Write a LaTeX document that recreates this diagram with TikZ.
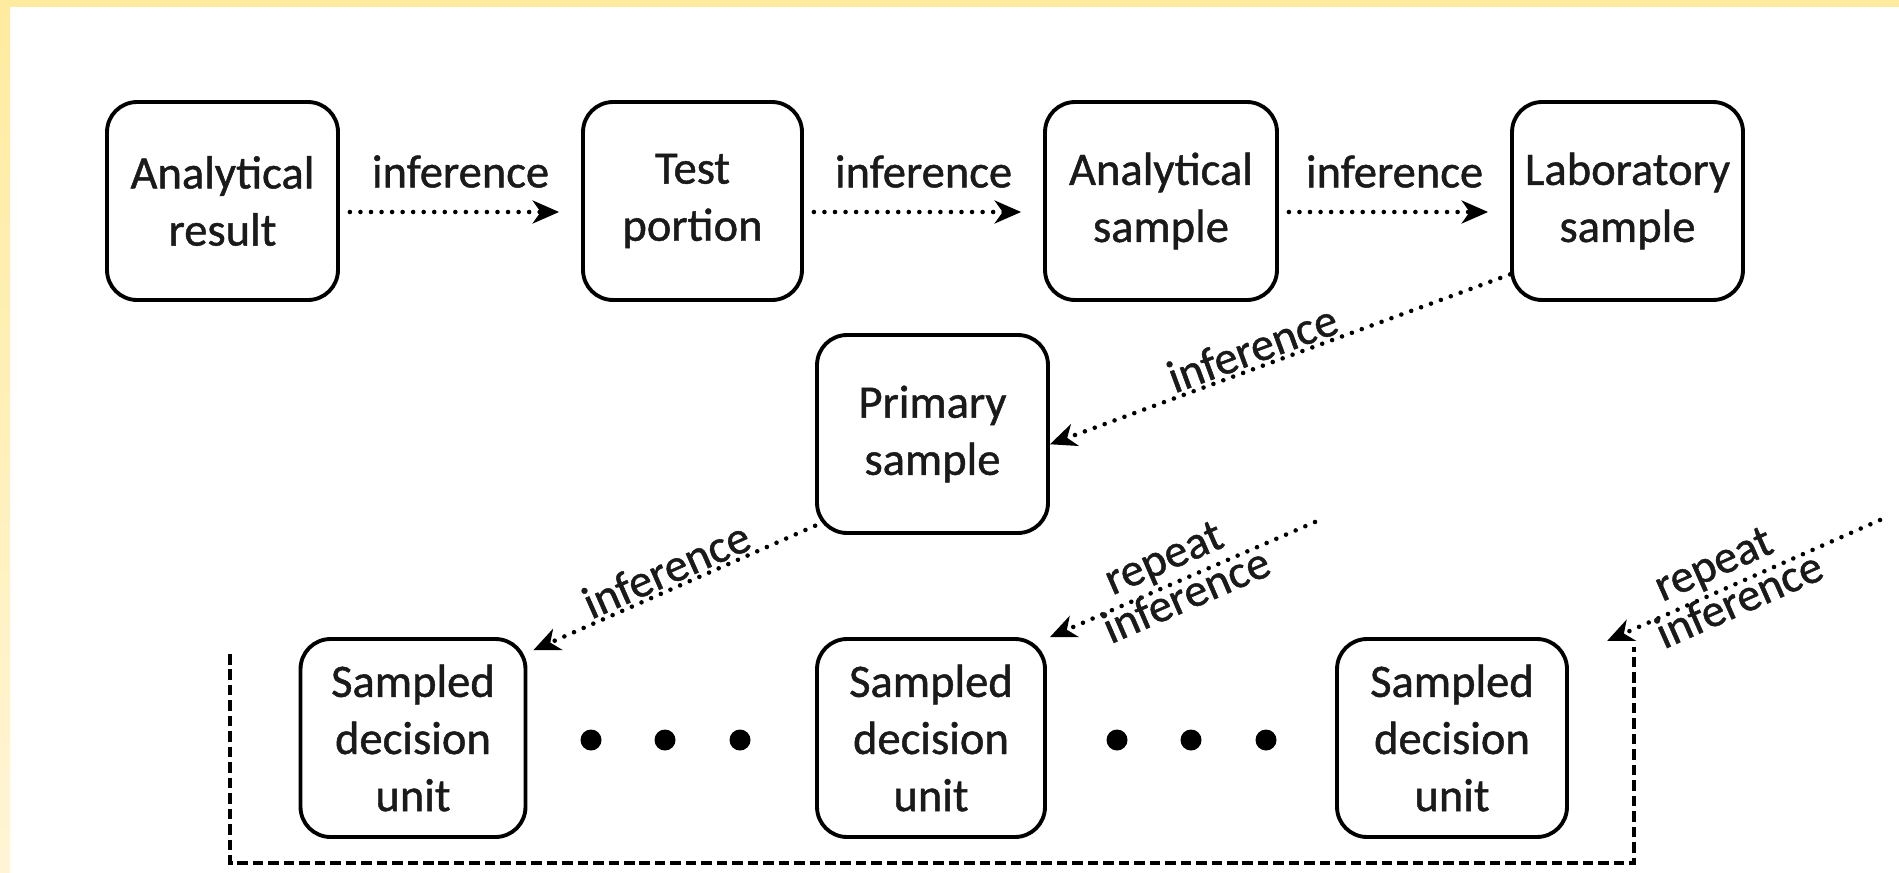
\documentclass[tikz,border=0pt]{standalone}
\usepackage{fontspec}
\setmainfont{Carlito}[FakeBold=1.0]
\usetikzlibrary{arrows.meta}
\definecolor{bandY}{HTML}{FFEBA0}
\definecolor{bandL}{HTML}{FFF5D5}
\definecolor{txt}{HTML}{1A1A1A}
\tikzset{
  box/.style={draw=black, line width=2.2pt, rounded corners=0.6cm, align=center, text=txt,
    font=\fontsize{26.5}{32.5}\selectfont, minimum height=3.96cm, inner sep=0pt},
  infer/.style={line width=2.6pt, dash pattern=on 0pt off 6pt, line cap=round,
    -{Stealth[length=15pt,width=13pt,inset=4.5pt]}},
  lbl/.style={text=txt, font=\fontsize{26.5}{32.5}\selectfont},
  bracket/.style={line width=2.4pt, dash pattern=on 6pt off 2.8pt},
}
\begin{document}
\begin{tikzpicture}[x=0.02cm, y=-0.02cm]
\useasboundingbox (0,0) rectangle (1899,872);
\fill[white] (0,0) rectangle (1899,872);
\fill[bandY] (0,0) rectangle (1899,7);
\shade[top color=bandY, bottom color=bandL] (0,7) rectangle (10,872);

% boxes
\node[box, minimum width=4.62cm] (AR) at (222.5,201) {Analytical\\result};
\node[box, minimum width=4.38cm] (TP) at (692.5,201) {Test\\portion};
\node[box, minimum width=4.64cm] (AS) at (1161,201) {Analytical\\sample};
\node[box, minimum width=4.62cm] (LS) at (1627.5,201) {Laboratory\\sample};
\node[box, minimum width=4.62cm] (PS) at (932.5,434) {Primary\\sample};
\node[box, minimum width=4.50cm] (SD1) at (413,738) {Sampled\\decision\\unit};
\node[box, minimum width=4.56cm] (SD2) at (931,738) {Sampled\\decision\\unit};
\node[box, minimum width=4.60cm] (SD3) at (1452,738) {Sampled\\decision\\unit};

% top row arrows
\draw[infer, shorten <=0.2cm, shorten >=0.44cm] ([yshift=-0.22cm]AR.east) --
  node[lbl, above, inner sep=0pt, yshift=0.44cm] {inference} ([yshift=-0.22cm]TP.west);
\draw[infer, shorten <=0.2cm, shorten >=0.44cm] ([yshift=-0.22cm]TP.east) --
  node[lbl, above, inner sep=0pt, yshift=0.44cm] {inference} ([yshift=-0.22cm]AS.west);
\draw[infer, shorten <=0.2cm, shorten >=0.44cm] ([yshift=-0.22cm]AS.east) --
  node[lbl, above, inner sep=0pt, yshift=0.44cm] {inference} ([yshift=-0.22cm]LS.west);

% diagonal arrows
\draw[infer] (LS.212) --
  node[lbl, sloped, above, pos=0.545, inner sep=1pt] {inference} (PS.-5);
\draw[infer] (PS.218) --
  node[lbl, sloped, above, pos=0.5, inner sep=1pt] {inference}
  ([shift={(0.12cm,-0.26cm)}]SD1.north east);

\coordinate (r2) at (1315,522);
\draw[infer] (r2) --
  node[lbl, sloped, above, pos=0.53, inner sep=2pt] {repeat}
  node[lbl, sloped, below=-2pt, pos=0.51, inner sep=0pt] {inference}
  ([xshift=0.06cm]SD2.north east);

\coordinate (r3s) at (1880,520);
\coordinate (r3e) at (1607,641);
\draw[infer] (r3s) --
  node[lbl, sloped, above, pos=0.57, inner sep=2pt] {repeat}
  node[lbl, sloped, below=-2pt, pos=0.54, inner sep=0pt] {inference}
  (r3e);

% dashed bracket
\coordinate (bTL) at (230,654);
\coordinate (bBL) at (230,863);
\coordinate (bBR) at (1634,863);
\coordinate (bTR) at (1634,647);
\draw[bracket] (bTL) -- (bBL) -- (bBR) -- (bTR);

% ellipsis dots
\foreach \xx in {591,665,740,1117,1191,1266}
  \fill[black] (\xx,740) circle[radius=0.21cm];
\end{tikzpicture}
\end{document}
